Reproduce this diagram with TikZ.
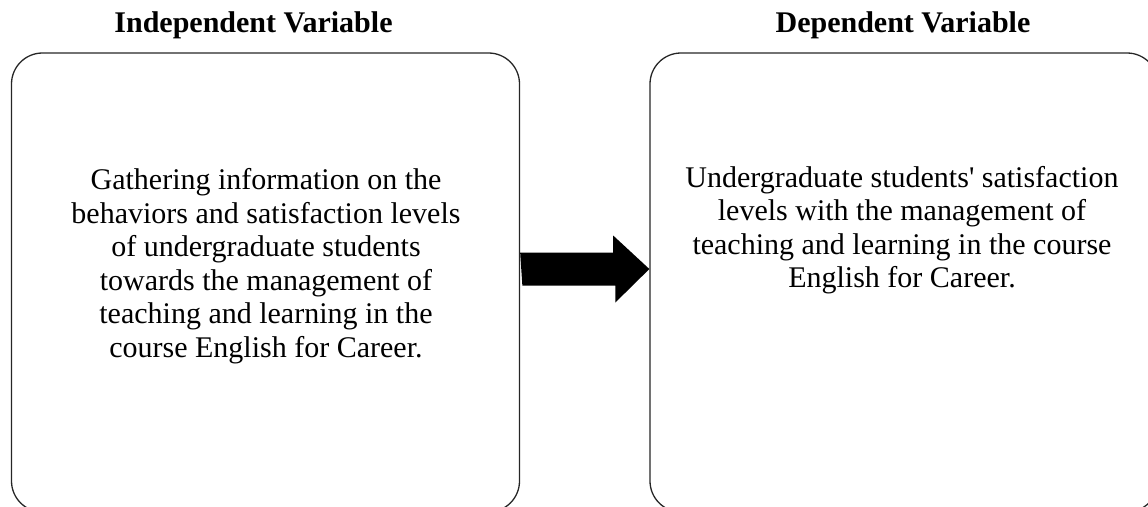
\documentclass[tikz,border=0pt]{standalone}
\usepackage{fontspec}
\setmainfont{Liberation Serif}
\usetikzlibrary{calc}
\begin{document}
\begin{tikzpicture}[x=1pt,y=-1pt,
  varbox/.style={draw=black!85, line width=1.3pt, rounded corners=31pt,
    minimum width=508pt, minimum height=459pt, inner sep=0pt},
  bodytext/.style={align=center, font=\fontsize{30pt}{33.5pt}\selectfont, inner sep=0pt},
  headtext/.style={font=\fontsize{30pt}{33pt}\selectfont\bfseries, inner sep=0pt, anchor=base}]
  \useasboundingbox (0,0) rectangle (1148,506);
  \clip (0,0) rectangle (1148,506);

  % the two boxes (their lower edge runs past the page)
  \node[varbox] (ind) at (265.5,282.5) {};
  \node[varbox] (dep) at (904,282.5) {};

  % headings
  \node[headtext] (indhead) at (253.5,32) {Independent Variable};
  \node[headtext] (dephead) at (903,32) {Dependent Variable};

  % box contents
  \node[bodytext] (indtext) at (266,266) {Gathering information on the\\
    behaviors and satisfaction levels\\
    of undergraduate students\\
    towards the management of\\
    teaching and learning in the\\
    course English for Career.};
  \node[bodytext] (deptext) at (902,230) {Undergraduate students\textquotesingle{} satisfaction\\
    levels with the management of\\
    teaching and learning in the course\\
    English for Career.};

  % block arrow from one box to the other
  \coordinate (ay) at (0,269);
  \fill[black] (ind.east |- ay) ++(0,-16.5) -- ++(93,0) -- ++(0,-17)
    -- (dep.west |- ay) -- ++(-34,33.5) -- ++(0,-17) -- ++(-93,0) -- cycle;
\end{tikzpicture}
\end{document}
